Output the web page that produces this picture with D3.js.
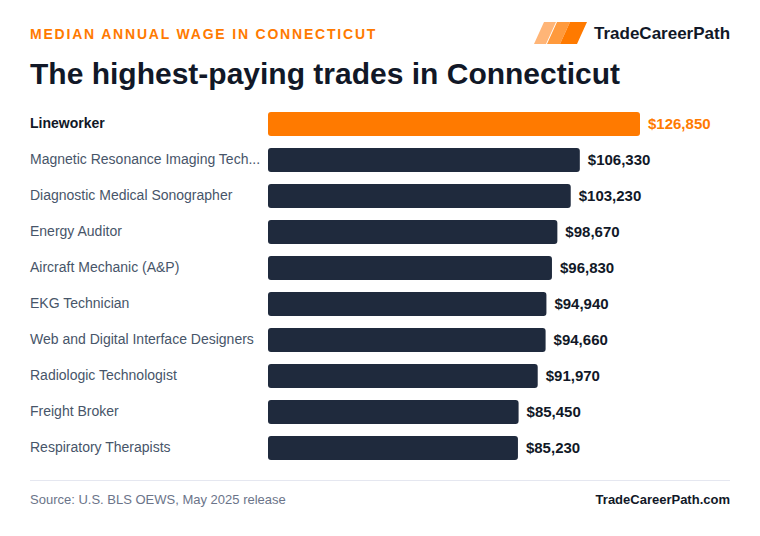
<!DOCTYPE html>
<html>
  <body style="margin:0;background:#fff">
    <style>
      svg { font-family: "Liberation Sans", Arial, sans-serif; display: block; }
    </style>
    <script src="https://d3js.org/d3.v7.min.js"></script>
    <script type="text/javascript">
      const width = 760;
      const height = 536;

      const trades = [
        'Lineworker',
        'Magnetic Resonance Imaging Tech...',
        'Diagnostic Medical Sonographer',
        'Energy Auditor',
        'Aircraft Mechanic (A&P)',
        'EKG Technician',
        'Web and Digital Interface Designers',
        'Radiologic Technologist',
        'Freight Broker',
        'Respiratory Therapists',
      ];
      const wages = [126850, 106330, 103230, 98670, 96830, 94940, 94660, 91970, 85450, 85230];

      const data = trades.map((t, i) => ({ trade: t, wage: wages[i], top: i === 0 }));

      const svg = d3.select('body')
        .append('svg')
        .attr('width', width)
        .attr('height', height);

      // header
      svg.append('text')
        .attr('x', 30).attr('y', 39)
        .attr('fill', '#ff7a00')
        .attr('font-size', 14).attr('font-weight', 700)
        .attr('letter-spacing', 1.8)
        .text('MEDIAN ANNUAL WAGE IN CONNECTICUT');

      svg.append('text')
        .attr('x', 30).attr('y', 84)
        .attr('fill', '#111827')
        .attr('font-size', 30).attr('font-weight', 700)
        .text('The highest-paying trades in Connecticut');

      // logo
      const logo = svg.append('g');
      const logoColors = ['#ffb577', '#ff9a3d', '#ff7a00'];
      const shapes = [[534, 12], [547, 13], [560, 17]];
      shapes.forEach(([x0, w], i) => {
        const h = 22, s = 10, y0 = 44;
        logo.append('path')
          .attr('d', `M${x0},${y0} L${x0 + s},${y0 - h} L${x0 + s + w},${y0 - h} L${x0 + w},${y0} Z`)
          .attr('fill', logoColors[i]);
      });
      svg.append('text')
        .attr('x', 594).attr('y', 39)
        .attr('fill', '#111827')
        .attr('font-size', 17).attr('font-weight', 700)
        .text('TradeCareerPath');

      // bars
      const x = d3.scaleLinear()
        .domain([0, d3.max(wages)])
        .range([268, 640]);

      const y = d3.scaleBand()
        .domain(trades)
        .range([106, 466])
        .paddingInner(0.333)
        .paddingOuter(0.1667);

      const rows = svg.selectAll('g.row')
        .data(data)
        .enter()
        .append('g')
        .attr('class', 'row');

      rows.append('rect')
        .attr('x', x(0))
        .attr('y', (d) => y(d.trade))
        .attr('width', (d) => x(d.wage) - x(0))
        .attr('height', y.bandwidth())
        .attr('rx', 3)
        .attr('fill', (d) => d.top ? '#ff7a00' : '#1f2a3d');

      rows.append('text')
        .attr('x', 30)
        .attr('y', (d) => y(d.trade) + y.bandwidth() / 2 - 1)
        .attr('dy', '0.35em')
        .attr('font-size', 14)
        .attr('font-weight', (d) => d.top ? 700 : 400)
        .attr('fill', (d) => d.top ? '#111827' : '#475569')
        .text((d) => d.trade);

      rows.append('text')
        .attr('x', (d) => x(d.wage) + 8)
        .attr('y', (d) => y(d.trade) + y.bandwidth() / 2)
        .attr('dy', '0.35em')
        .attr('font-size', 15)
        .attr('font-weight', 700)
        .attr('fill', (d) => d.top ? '#ff7a00' : '#111827')
        .text((d) => '$' + d3.format(',')(d.wage));

      // footer
      svg.append('line')
        .attr('x1', 30).attr('x2', 730)
        .attr('y1', 480.5).attr('y2', 480.5)
        .attr('stroke', '#e5e7f0');

      svg.append('text')
        .attr('x', 30).attr('y', 504)
        .attr('fill', '#6b7489')
        .attr('font-size', 13)
        .text('Source: U.S. BLS OEWS, May 2025 release');

      svg.append('text')
        .attr('x', 730).attr('y', 504)
        .attr('text-anchor', 'end')
        .attr('fill', '#111827')
        .attr('font-size', 13).attr('font-weight', 700)
        .text('TradeCareerPath.com');
    </script>
  </body>
</html>
